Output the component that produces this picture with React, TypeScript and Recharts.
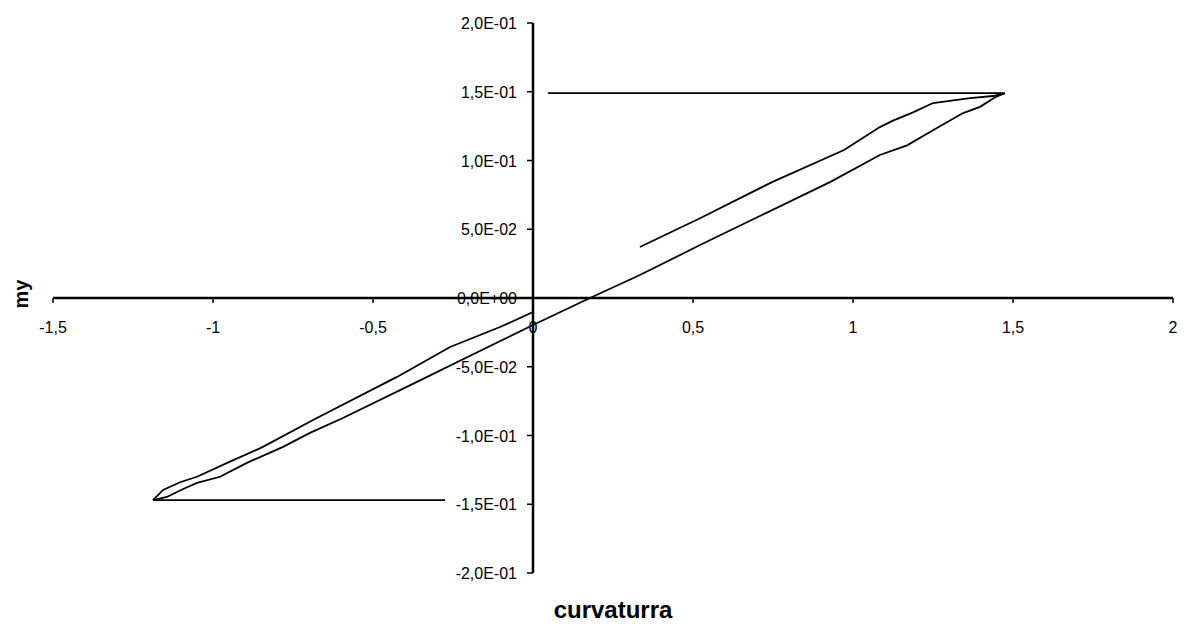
import { LineChart, Line, XAxis, YAxis, ReferenceLine } from "recharts";

// moment-curvature loop
const topFlat = [
  { x: 0.047, y: 0.149 },
  { x: 1.47, y: 0.149 },
];

const mainBranch = [
  { x: 1.475, y: 0.149 },
  { x: 1.444, y: 0.146 },
  { x: 1.397, y: 0.139 },
  { x: 1.344, y: 0.1345 },
  { x: 1.25, y: 0.122 },
  { x: 1.169, y: 0.111 },
  { x: 1.084, y: 0.104 },
  { x: 0.928, y: 0.0843 },
  { x: 0.709, y: 0.0596 },
  { x: 0.522, y: 0.0385 },
  { x: 0.334, y: 0.0167 },
  { x: 0.178, y: 0.0 },
  { x: 0.0, y: -0.0196 },
  { x: -0.166, y: -0.0385 },
  { x: -0.3625, y: -0.061 },
  { x: -0.594, y: -0.0873 },
  { x: -0.697, y: -0.0981 },
  { x: -0.781, y: -0.1083 },
  { x: -0.894, y: -0.1199 },
  { x: -0.978, y: -0.13 },
  { x: -1.05, y: -0.1345 },
  { x: -1.1, y: -0.1396 },
  { x: -1.144, y: -0.1447 },
  { x: -1.1875, y: -0.147 },
];

const upperRight = [
  { x: 0.334, y: 0.0371 },
  { x: 0.522, y: 0.058 },
  { x: 0.747, y: 0.0843 },
  { x: 0.972, y: 0.1076 },
  { x: 1.084, y: 0.1243 },
  { x: 1.125, y: 0.129 },
  { x: 1.1875, y: 0.135 },
  { x: 1.25, y: 0.1418 },
  { x: 1.366, y: 0.1454 },
  { x: 1.4375, y: 0.1469 },
  { x: 1.475, y: 0.149 },
];

const lowerLeft = [
  { x: -1.1875, y: -0.147 },
  { x: -1.156, y: -0.1396 },
  { x: -1.103, y: -0.134 },
  { x: -1.05, y: -0.13 },
  { x: -0.947, y: -0.119 },
  { x: -0.844, y: -0.1083 },
  { x: -0.6875, y: -0.0887 },
  { x: -0.425, y: -0.0574 },
  { x: -0.259, y: -0.0356 },
  { x: -0.103, y: -0.0211 },
  { x: 0.0, y: -0.0102 },
];

const bottomFlat = [
  { x: -1.1875, y: -0.147 },
  { x: -0.275, y: -0.147 },
];

const xTicks = [-1.5, -1, -0.5, 0, 0.5, 1, 1.5, 2];
const yTicks = [-0.2, -0.15, -0.1, -0.05, 0, 0.05, 0.1, 0.15, 0.2];

const W = 1187;
const H = 627;
const X_AXIS_H = 30;
const Y_AXIS_W = 30;
// plot area: x 53..1173, y 23..573
const M = { top: 23, right: 14, bottom: 54 - X_AXIS_H, left: 53 - Y_AXIS_W };
const X_DOMAIN = [-1.5, 2];
const Y_DOMAIN = [-0.2, 0.2];

// where the axes cross (x = 0, y = 0) inside the plot area
const plotLeft = M.left + Y_AXIS_W;
const plotW = W - plotLeft - M.right;
const plotH = H - M.top - M.bottom - X_AXIS_H;
const ZERO_X = plotLeft + (plotW * (0 - X_DOMAIN[0])) / (X_DOMAIN[1] - X_DOMAIN[0]);
const ZERO_Y = M.top + (plotH * (Y_DOMAIN[1] - 0)) / (Y_DOMAIN[1] - Y_DOMAIN[0]);

const fmtX = (v: number) => String(v).replace(".", ",");
const fmtY = (v: number) => {
  const [mant, exp] = v.toExponential(1).split("e");
  const sign = exp.startsWith("-") ? "-" : "+";
  const digits = exp.replace(/[+-]/, "").padStart(2, "0");
  return `${mant.replace(".", ",")}E${sign}${digits}`;
};

const renderXTick = (props: any) => {
  const { x, payload } = props;
  return (
    <g>
      <line x1={x} x2={x} y1={ZERO_Y} y2={ZERO_Y + 5} stroke="#000" strokeWidth={1.5} />
      <text x={x} y={ZERO_Y + 35} textAnchor="middle" fontSize={16} fill="#000">
        {fmtX(payload.value)}
      </text>
    </g>
  );
};

const renderYTick = (props: any) => {
  const { y, payload } = props;
  return (
    <g>
      <line x1={ZERO_X - 6} x2={ZERO_X} y1={y} y2={y} stroke="#000" strokeWidth={1.5} />
      <text x={ZERO_X - 16} y={y + 6} textAnchor="end" fontSize={16} fill="#000">
        {fmtY(payload.value)}
      </text>
    </g>
  );
};

const renderXTitle = () => (
  <text
    x={plotLeft + plotW / 2}
    y={H - 9}
    textAnchor="middle"
    fontSize={24}
    fontWeight="bold"
    fill="#000"
  >
    curvaturra
  </text>
);

const renderYTitle = () => (
  <text
    x={28}
    y={ZERO_Y - 4}
    transform={`rotate(-90 28 ${ZERO_Y - 4})`}
    textAnchor="middle"
    fontSize={20}
    fontWeight="bold"
    fill="#000"
  >
    my
  </text>
);

const lineProps = {
  dataKey: "y",
  type: "linear" as const,
  dot: false,
  stroke: "#000",
  strokeWidth: 1.8,
  isAnimationActive: false,
};

export default function App() {
  return (
    <div
      style={{
        position: "absolute",
        left: 0,
        top: 0,
        width: W,
        height: H,
        background: "#fff",
        fontFamily: "'Liberation Sans', Arial, sans-serif",
      }}
    >
      <LineChart width={W} height={H} margin={M}>
        <XAxis
          type="number"
          dataKey="x"
          domain={X_DOMAIN}
          ticks={xTicks}
          height={X_AXIS_H}
          axisLine={false}
          tickLine={false}
          tick={renderXTick}
          interval={0}
          allowDataOverflow
          label={renderXTitle}
        />
        <YAxis
          type="number"
          dataKey="y"
          domain={Y_DOMAIN}
          ticks={yTicks}
          width={Y_AXIS_W}
          axisLine={false}
          tickLine={false}
          tick={renderYTick}
          interval={0}
          allowDataOverflow
          label={renderYTitle}
        />
        <ReferenceLine x={0} stroke="#000" strokeWidth={2.5} />
        <ReferenceLine y={0} stroke="#000" strokeWidth={2.5} />
        <Line {...lineProps} data={topFlat} />
        <Line {...lineProps} data={mainBranch} />
        <Line {...lineProps} data={upperRight} />
        <Line {...lineProps} data={lowerLeft} />
        <Line {...lineProps} data={bottomFlat} />
      </LineChart>
    </div>
  );
}
